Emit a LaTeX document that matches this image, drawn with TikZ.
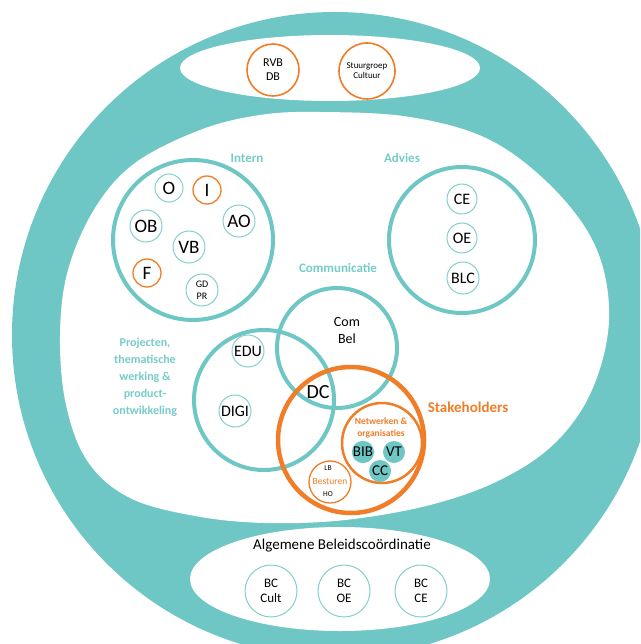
\documentclass[tikz,border=0pt]{standalone}
\usepackage{fontspec}
\setmainfont{Carlito}
\definecolor{tealc}{RGB}{110,199,196}
\definecolor{teallab}{RGB}{118,204,200}
\definecolor{orangec}{RGB}{240,125,40}
\definecolor{thinring}{RGB}{130,208,204}
\newcommand\myfs[1]{\fontsize{#1}{#1}\selectfont}
\begin{document}
\begin{tikzpicture}[x=1pt,y=-1pt,
  ring/.style={circle, draw=thinring, line width=1pt, inner sep=0pt, align=center, text=black, minimum size=#1},
  oring/.style={circle, draw=orangec, line width=1.3pt, inner sep=0pt, align=center, text=black, minimum size=#1},
  fring/.style={circle, fill=tealc, inner sep=0pt, align=center, text=black, minimum size=#1},
  grp/.style={circle, draw=tealc, line width=4pt, inner sep=0pt, minimum size=#1},
  ogrp/.style={circle, draw=orangec, inner sep=0pt, minimum size=#1},
  lab/.style={text=teallab, font=\bfseries\myfs{13}, inner sep=0pt, align=center},
  txt/.style={inner sep=0pt, align=center, text=black}]
\useasboundingbox (0,0) rectangle (640,644);
\clip (0,0) rectangle (640,644);
% background shapes
\fill[tealc] (335,335) circle (323pt);
\fill[white] plot[smooth cycle, tension=0.6] coordinates {
  (320,112) (410,117) (490,140) (555,190) (597,250) (609,320) (592,390)
  (555,443) (500,480) (430,505) (345,520) (265,523) (195,516) (130,498)
  (88,462) (66,405) (60,335) (68,270) (95,208) (135,163) (200,130) (260,115)};
\fill[white] (330,68) ellipse [x radius=150pt, y radius=33pt];
\fill[white] (340,579) ellipse [x radius=150pt, y radius=52pt];

% top
\node[oring=52pt, line width=1.6pt, font=\myfs{12}] (rvb) at (273,70) {RVB\\[2pt]DB};
\node[oring=56pt, line width=1.6pt, font=\myfs{9}] (stuur) at (367,71) {Stuurgroep\\[1pt]Cultuur};

% Intern
\node[lab] (internl) at (247,158) {Intern};
\node[grp=160pt] (intern) at (193,240) {};
\node[ring=28pt, font=\myfs{19}] (o) at (169,188) {O};
\node[oring=28pt, font=\myfs{19}] (i) at (207,190) {I};
\node[ring=32pt, font=\myfs{19}] (ob) at (146,226) {OB};
\node[ring=32pt, font=\myfs{19}] (ao) at (239,221) {AO};
\node[ring=32pt, font=\myfs{19}] (vb) at (189,247) {VB};
\node[oring=28pt, font=\myfs{19}] (f) at (147,273) {F};
\node[ring=32pt, font=\myfs{10}] (gd) at (202,290) {GD\\[2pt]PR};

% Advies
\node[lab] (adviesl) at (402,158) {Advies};
\node[grp=146pt] (advies) at (462,240) {};
\node[ring=30pt, font=\myfs{16}] (ce) at (462,199) {CE};
\node[ring=30pt, font=\myfs{16}] (oe) at (462,238) {OE};
\node[ring=32pt, font=\myfs{16}] (blc) at (463,278) {BLC};

% Communicatie
\node[lab] (coml) at (338,268) {Communicatie};
\node[grp=120pt] (com) at (337,348) {};
\node[txt, font=\myfs{14}] (combel) at (347,331) {Com\\[3pt]Bel};

% Projecten
\node[lab, font=\bfseries\fontsize{12}{17}\selectfont] (projl) at (145,377) {Projecten,\\thematische\\werking \&\\product-\\ontwikkeling};
\node[grp=140pt] (proj) at (264,400) {};
\node[ring=32pt, font=\myfs{16}] (edu) at (248,351) {EDU};
\node[ring=32pt, font=\myfs{16}] (digi) at (235,411) {DIGI};

% Stakeholders
\node[ogrp=146pt, line width=4.5pt] (stake) at (351,440) {};
\node[txt, font=\myfs{20}] (dc) at (318,392) {DC};
\node[text=orangec, font=\bfseries\myfs{15}, inner sep=0pt] (stakel) at (468,407) {Stakeholders};
\node[ogrp=80pt, line width=2.5pt] (netw) at (382,443) {};
\node[text=orangec, font=\bfseries\fontsize{9.5}{12}\selectfont, inner sep=0pt, align=center] (netwl) at (381,428) {Netwerken \&\\organisaties};
\node[fring=22pt, font=\myfs{15}] (bib) at (363,452) {BIB};
\node[fring=22pt, font=\myfs{15}] (vt) at (394,452) {VT};
\node[fring=22pt, font=\myfs{15}] (cc) at (380,471) {CC};
\node[oring=42pt, fill=white] (lb) at (330,482) {};
\node[txt, font=\myfs{7.5}] (lbt) at (328,468) {LB};
\node[text=orangec, font=\myfs{9.5}, inner sep=0pt] (best) at (330,481) {Besturen};
\node[txt, font=\myfs{7.5}] (hot) at (328,494) {HO};

% Algemene Beleidscoordinatie
\node[txt, font=\myfs{15}] (abc) at (342,546) {Algemene Beleidscoördinatie};
\node[ring=52pt, font=\myfs{13}] (bc1) at (271,591) {BC\\[2pt]Cult};
\node[ring=52pt, font=\myfs{13}] (bc2) at (344,591) {BC\\[2pt]OE};
\node[ring=52pt, font=\myfs{13}] (bc3) at (421,591) {BC\\[2pt]CE};
\end{tikzpicture}
\end{document}
